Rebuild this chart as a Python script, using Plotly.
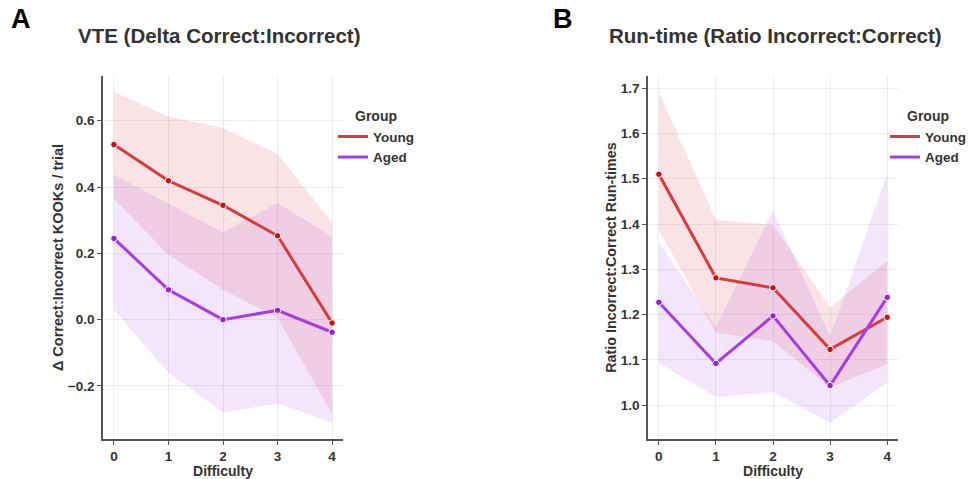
import plotly.graph_objects as go

difficulty = [0, 1, 2, 3, 4]

# Panel A: VTE (Delta Correct:Incorrect)
vte_young_mean = [0.528, 0.419, 0.345, 0.253, -0.010]
vte_young_hi = [0.687, 0.613, 0.578, 0.500, 0.292]
vte_young_lo = [0.364, 0.196, 0.090, 0.006, -0.284]
vte_aged_mean = [0.245, 0.090, 0.000, 0.028, -0.038]
vte_aged_hi = [0.437, 0.350, 0.263, 0.351, 0.251]
vte_aged_lo = [0.030, -0.160, -0.280, -0.253, -0.310]

# Panel B: Run-time (Ratio Incorrect:Correct)
rt_young_mean = [1.510, 1.281, 1.259, 1.123, 1.194]
rt_young_hi = [1.691, 1.409, 1.398, 1.216, 1.318]
rt_young_lo = [1.387, 1.160, 1.141, 1.040, 1.090]
rt_aged_mean = [1.227, 1.092, 1.197, 1.043, 1.238]
rt_aged_hi = [1.360, 1.172, 1.430, 1.151, 1.510]
rt_aged_lo = [1.093, 1.017, 1.029, 0.961, 1.050]

groups = ["Young", "Aged"]
line_colors = {"Young": "#D93A3A", "Aged": "#A93CE0"}
marker_colors = {"Young": "#CC1010", "Aged": "#9A1FD6"}
band_colors = {"Young": "rgba(222,60,75,0.14)", "Aged": "rgba(170,70,225,0.14)"}

FONT = "Liberation Sans, Arial, sans-serif"
TXT = "#333333"

fig = go.Figure()

panels = [
    ("x", "y", "legend", {"Young": (vte_young_mean, vte_young_hi, vte_young_lo),
                          "Aged": (vte_aged_mean, vte_aged_hi, vte_aged_lo)}),
    ("x2", "y2", "legend2", {"Young": (rt_young_mean, rt_young_hi, rt_young_lo),
                             "Aged": (rt_aged_mean, rt_aged_hi, rt_aged_lo)}),
]

for xa, ya, lg, data in panels:
    for g in groups:
        m, hi, lo = data[g]
        fig.add_trace(go.Scatter(
            x=difficulty + difficulty[::-1], y=hi + lo[::-1],
            fill="toself", fillcolor=band_colors[g], line=dict(width=0),
            mode="lines", hoverinfo="skip", showlegend=False,
            xaxis=xa, yaxis=ya))
    for g in groups:
        m, hi, lo = data[g]
        fig.add_trace(go.Scatter(
            x=difficulty, y=m, mode="lines+markers", name=g,
            line=dict(color=line_colors[g], width=3),
            marker=dict(color=marker_colors[g], size=6.5,
                        line=dict(color="white", width=1)),
            xaxis=xa, yaxis=ya, showlegend=False))
    # legend entries (line only)
    for g in groups:
        fig.add_trace(go.Scatter(
            x=[None], y=[None], mode="lines", name=g,
            line=dict(color=line_colors[g], width=3),
            xaxis=xa, yaxis=ya, legend=lg, showlegend=True))

axis_common = dict(
    showline=True, linecolor="#555555", linewidth=1.5,
    ticks="outside", ticklen=4, tickwidth=1.2, tickcolor="#555555",
    showgrid=True, gridcolor="#EDEDED", gridwidth=1, zeroline=False,
    tickfont=dict(family=FONT, size=13.5, color=TXT, weight="bold"),
    mirror=False,
)

ydom = [1 - 439 / 479, 1 - 76 / 479]

legend_common = dict(
    xanchor="left", yanchor="top", bgcolor="rgba(0,0,0,0)",
    title=dict(text="Group", side="top center",
               font=dict(family=FONT, size=14, color=TXT, weight="bold")),
    font=dict(family=FONT, size=13.5, color=TXT, weight="bold"),
    itemwidth=30, tracegroupgap=0,
)

fig.update_layout(
    width=973, height=479,
    margin=dict(l=0, r=0, t=0, b=0),
    paper_bgcolor="white", plot_bgcolor="white",
    font=dict(family=FONT, color=TXT),
    xaxis=dict(domain=[103 / 973, 343 / 973], range=[-0.2, 4.2],
               tickvals=difficulty, anchor="y",
               title=dict(text="Difficulty", standoff=6,
                          font=dict(family=FONT, size=14, color=TXT, weight="bold")),
               **axis_common),
    yaxis=dict(domain=ydom, range=[-0.36, 0.735], tickvals=[-0.2, 0.0, 0.2, 0.4, 0.6],
               ticktext=["\u22120.2", "0.0", "0.2", "0.4", "0.6"], anchor="x",
               title=dict(text="\u0394 Correct:Incorrect KOOKs / trial", standoff=1,
                          font=dict(family=FONT, size=14.5, color=TXT, weight="bold")),
               **axis_common),
    xaxis2=dict(domain=[648 / 973, 898 / 973], range=[-0.19, 4.19],
                tickvals=difficulty, anchor="y2",
                title=dict(text="Difficulty", standoff=6,
                           font=dict(family=FONT, size=14, color=TXT, weight="bold")),
                **axis_common),
    yaxis2=dict(domain=ydom, range=[0.925, 1.727],
                tickvals=[1.0, 1.1, 1.2, 1.3, 1.4, 1.5, 1.6, 1.7],
                tickformat=".1f", anchor="x2",
                title=dict(text="Ratio Incorrect:Correct Run-times", standoff=1,
                           font=dict(family=FONT, size=14.3, color=TXT, weight="bold")),
                **axis_common),
    legend=dict(x=333 / 973, y=1 - 103 / 479, **legend_common),
    legend2=dict(x=885 / 973, y=1 - 103 / 479, **legend_common),
    annotations=[
        dict(text="VTE (Delta Correct:Incorrect)", x=219 / 973, y=1 - 36 / 479,
             xref="paper", yref="paper", showarrow=False, xanchor="center", yanchor="middle",
             font=dict(family=FONT, size=20.5, color=TXT, weight="bold")),
        dict(text="Run-time (Ratio Incorrect:Correct)", x=775 / 973, y=1 - 36 / 479,
             xref="paper", yref="paper", showarrow=False, xanchor="center", yanchor="middle",
             font=dict(family=FONT, size=20.5, color=TXT, weight="bold")),
        dict(text="A", x=21 / 973, y=1 - 19 / 479, xref="paper", yref="paper",
             showarrow=False, xanchor="center", yanchor="middle",
             font=dict(family=FONT, size=27, color="black", weight="bold")),
        dict(text="B", x=563 / 973, y=1 - 19 / 479, xref="paper", yref="paper",
             showarrow=False, xanchor="center", yanchor="middle",
             font=dict(family=FONT, size=27, color="black", weight="bold")),
    ],
)

fig.write_html("out.html")
